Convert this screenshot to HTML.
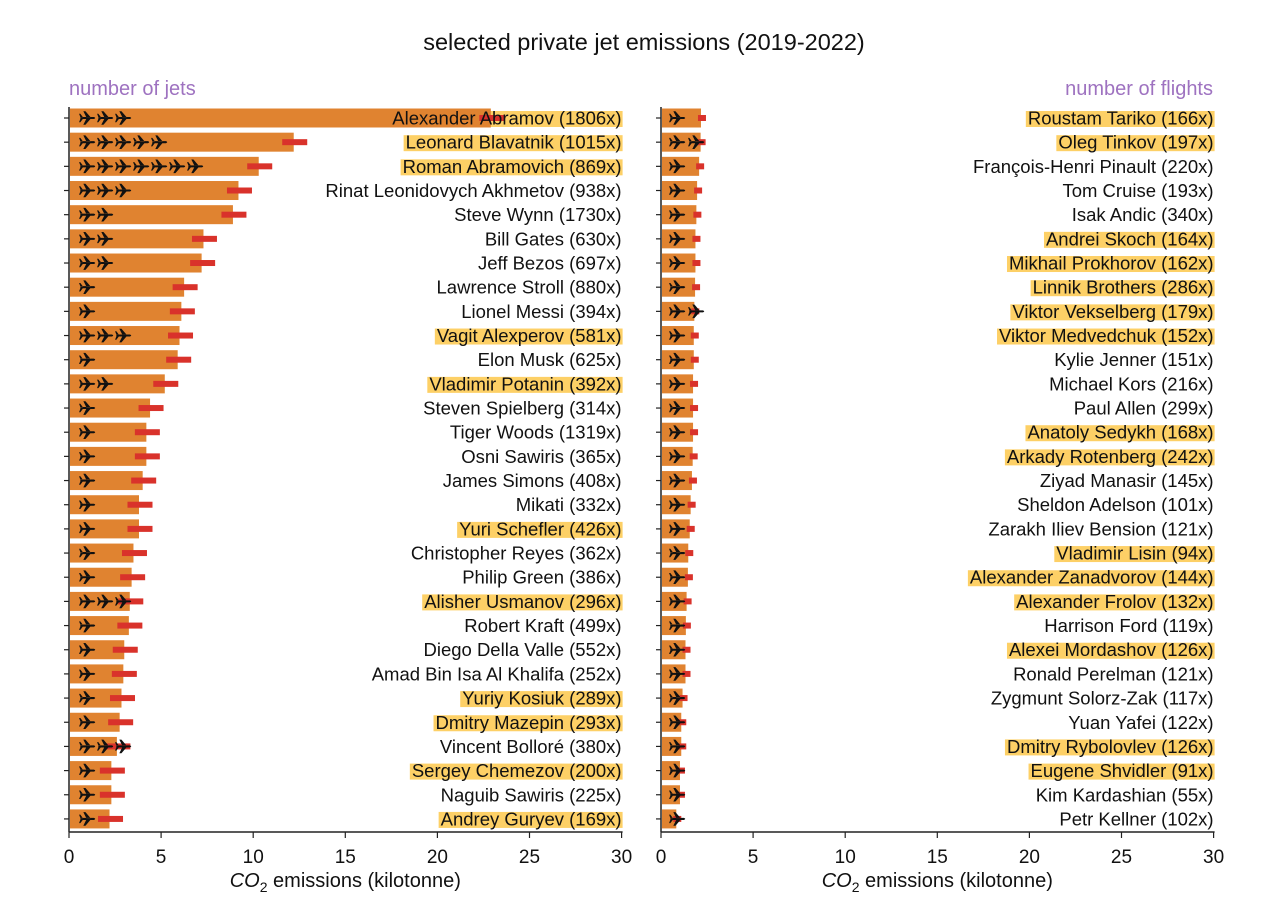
<!DOCTYPE html>
<html><head><meta charset="utf-8"><style>
body{margin:0;background:#fff;}
svg text{font-family:"Liberation Sans","DejaVu Sans",sans-serif;}
</style></head><body>
<svg id="chart" width="1280" height="905" xmlns="http://www.w3.org/2000/svg">
<text x="644" y="50" font-size="23.5" text-anchor="middle" fill="#111">selected private jet emissions (2019-2022)</text>
<text x="69" y="95" font-size="20" fill="#9e72c0">number of jets</text>
<text x="1213" y="95" font-size="20" fill="#9e72c0" text-anchor="end">number of flights</text>
<g id="left"></g>
<g id="right"></g>
</svg>
<script>
const leftNames=["Alexander Abramov (1806x)","Leonard Blavatnik (1015x)","Roman Abramovich (869x)","Rinat Leonidovych Akhmetov (938x)","Steve Wynn (1730x)","Bill Gates (630x)","Jeff Bezos (697x)","Lawrence Stroll (880x)","Lionel Messi (394x)","Vagit Alexperov (581x)","Elon Musk (625x)","Vladimir Potanin (392x)","Steven Spielberg (314x)","Tiger Woods (1319x)","Osni Sawiris (365x)","James Simons (408x)","Mikati (332x)","Yuri Schefler (426x)","Christopher Reyes (362x)","Philip Green (386x)","Alisher Usmanov (296x)","Robert Kraft (499x)","Diego Della Valle (552x)","Amad Bin Isa Al Khalifa (252x)","Yuriy Kosiuk (289x)","Dmitry Mazepin (293x)","Vincent Bolloré (380x)","Sergey Chemezov (200x)","Naguib Sawiris (225x)","Andrey Guryev (169x)"];
const leftValues=[22.9,12.2,10.3,9.2,8.9,7.3,7.2,6.25,6.1,6.0,5.9,5.2,4.4,4.2,4.2,4.0,3.8,3.8,3.5,3.4,3.3,3.25,3.0,2.95,2.85,2.75,2.6,2.3,2.3,2.2];
const leftJets=[3,5,7,3,2,2,2,1,1,3,1,2,1,1,1,1,1,1,1,1,3,1,1,1,1,1,3,1,1,1];
const leftHighlight=[1,1,1,0,0,0,0,0,0,1,0,1,0,0,0,0,0,1,0,0,1,0,0,0,1,1,0,1,0,1];
const rightNames=["Roustam Tariko (166x)","Oleg Tinkov (197x)","François-Henri Pinault (220x)","Tom Cruise (193x)","Isak Andic (340x)","Andrei Skoch (164x)","Mikhail Prokhorov (162x)","Linnik Brothers (286x)","Viktor Vekselberg (179x)","Viktor Medvedchuk (152x)","Kylie Jenner (151x)","Michael Kors (216x)","Paul Allen (299x)","Anatoly Sedykh (168x)","Arkady Rotenberg (242x)","Ziyad Manasir (145x)","Sheldon Adelson (101x)","Zarakh Iliev Bension (121x)","Vladimir Lisin (94x)","Alexander Zanadvorov (144x)","Alexander Frolov (132x)","Harrison Ford (119x)","Alexei Mordashov (126x)","Ronald Perelman (121x)","Zygmunt Solorz-Zak (117x)","Yuan Yafei (122x)","Dmitry Rybolovlev (126x)","Eugene Shvidler (91x)","Kim Kardashian (55x)","Petr Kellner (102x)"];
const rightValues=[2.17,2.15,2.07,1.96,1.92,1.87,1.87,1.85,1.81,1.78,1.78,1.74,1.74,1.74,1.72,1.68,1.61,1.56,1.48,1.46,1.39,1.35,1.33,1.33,1.17,1.1,1.1,1.03,1.03,0.83];
const rightJets=[1,2,1,1,1,1,1,1,2,1,1,1,1,1,1,1,1,1,1,1,1,1,1,1,1,1,1,1,1,1];
const rightHighlight=[1,1,0,0,0,1,1,1,1,1,0,0,0,1,1,0,0,0,1,1,1,0,1,0,0,0,1,1,0,0];
const xTicks=[0,5,10,15,20,25,30];

const NS="http://www.w3.org/2000/svg";
function mk(tag,attrs,parent){const e=document.createElementNS(NS,tag);for(const k in attrs)e.setAttribute(k,attrs[k]);parent.appendChild(e);return e;}
const rowY=i=>118+i*24.17;
const PLANE="M-9,-1.2 L7,-1.2 Q10,0 7,1.2 L-9,1.2 Z M3,-1 L-3,-8 L-5.5,-8 L-2,-1 Z M3,1 L-3,8 L-5.5,8 L-2,1 Z M-6,-1 L-9,-5 L-10.5,-5 L-9,-1 Z M-6,1 L-9,5 L-10.5,5 L-9,1 Z";

function panel(g,x0,names,values,jets,hl,planeStart,planeStep,redW){
  const xs=v=>x0+v*18.42;
  const x1=xs(30);
  const labels=[];
  names.forEach((n,i)=>{
    const y=rowY(i);
    const t=mk('text',{x:x1,y:y+6.5,'font-size':18.5,'text-anchor':'end',fill:'#111'},g);
    t.textContent=n;
    
    
    labels.push(t);
  });
  values.forEach((v,i)=>{
    const y=rowY(i);
    if(hl[i]){
      const w=labels[i].getComputedTextLength();
      const r=mk('rect',{x:x1-w-2,y:y-7,width:w+3,height:16,fill:'#fdd066'},g);
      g.insertBefore(r,g.firstChild);
      
      
    }
    const b=mk('rect',{x:x0+1,y:y-9.5,width:xs(v)-x0-1,height:19,fill:'#e08330'},g);
    
    
    const r=mk('rect',{x:xs(v)+1-redW/2,y:y-3,width:redW,height:6,fill:'#d9322b'},g);
    
    
    for(let k=0;k<jets[i];k++){
      const p=mk('path',{d:PLANE,fill:'#111',transform:`translate(${planeStart+k*planeStep},${y}) scale(0.85)`},g);
      
      
    }
    const tk=mk('line',{x1:x0-5,x2:x0,y1:y,y2:y,stroke:'#222','stroke-width':1.2},g);
    
    
  });
  labels.forEach(l=>g.appendChild(l));
  const ay=mk('line',{x1:x0,x2:x0,y1:107,y2:832,stroke:'#222','stroke-width':1.5},g);
  
  
  const ax=mk('line',{x1:x0,x2:x1+1,y1:832,y2:832,stroke:'#222','stroke-width':1.5},g);
  
  
  xTicks.forEach(t=>{
    const l=mk('line',{x1:xs(t),x2:xs(t),y1:832,y2:838,stroke:'#222','stroke-width':1.2},g);
    
    
    const tx=mk('text',{x:xs(t),y:863,'font-size':19,'text-anchor':'middle',fill:'#111'},g);
    tx.textContent=t;
    
    
  });
  const at=mk('text',{x:(x0+x1)/2,y:887,'font-size':20,'text-anchor':'middle',fill:'#111'},g);
  at.innerHTML='<tspan font-style="italic">CO</tspan><tspan font-size="14" dy="5">2</tspan><tspan dy="-5"> emissions (kilotonne)</tspan>';
  
  
}
panel(document.getElementById('left'),69,leftNames,leftValues,leftJets,leftHighlight,88,18,25);
panel(document.getElementById('right'),661,rightNames,rightValues,rightJets,rightHighlight,678,19,8);
</script>
</body></html>
